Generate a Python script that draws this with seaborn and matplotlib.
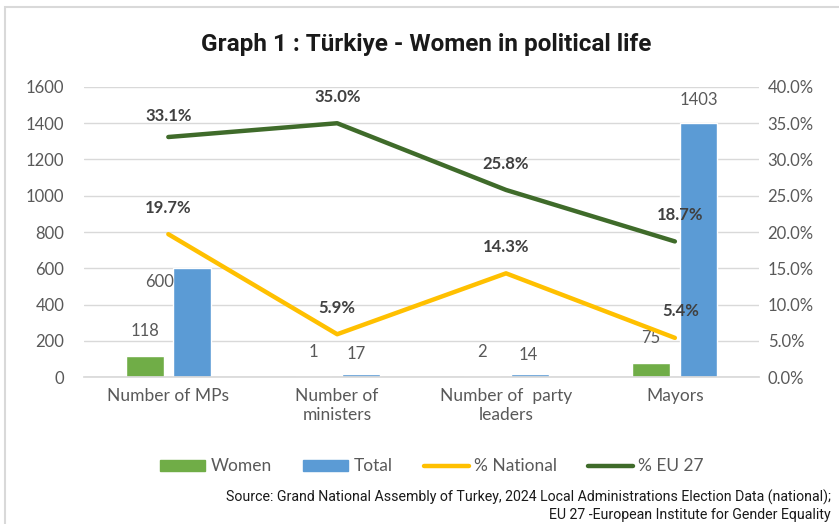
import numpy as np
import pandas as pd
import matplotlib
matplotlib.use("Agg")
import matplotlib.pyplot as plt
import seaborn as sns
from matplotlib.patches import Rectangle, Patch
from matplotlib.lines import Line2D
from matplotlib.ticker import FuncFormatter, MultipleLocator

categories = ["Number of MPs", "Number of\nministers", "Number of  party\nleaders", "Mayors"]
women = [118, 1, 2, 75]
total = [600, 17, 14, 1403]
pct_national = [19.7, 5.9, 14.3, 5.4]
pct_eu27 = [33.1, 35.0, 25.8, 18.7]

sns.set_theme(style="white")
plt.rcParams["font.family"] = ["Lato", "DejaVu Sans"]

GREEN = "#70ad47"
BLUE = "#5b9bd5"
YELLOW = "#ffc000"
DKGREEN = "#3f6b2a"
GRAY = "#595959"
LBL = "#404040"

fig = plt.figure(figsize=(8.39, 5.24), dpi=100)
ax = fig.add_axes([0.1, 0.2805, 0.805, 0.5535])

df = pd.DataFrame({
    "cat": categories * 2,
    "val": women + total,
    "series": ["Women"] * 4 + ["Total"] * 4,
})
sns.barplot(data=df, x="cat", y="val", hue="series", palette=[GREEN, BLUE],
            width=0.56, gap=0.2, ax=ax, legend=False, saturation=1)

ax.set_xlim(-0.5, 3.5)
ax.set_ylim(0, 1600)
ax.yaxis.set_major_locator(MultipleLocator(200))
ax.grid(axis="y", color="#d9d9d9", linewidth=1)
ax.set_axisbelow(True)
for s in ["top", "right", "left"]:
    ax.spines[s].set_visible(False)
ax.spines["bottom"].set_color("#d9d9d9")
ax.set_xlabel("")
ax.set_ylabel("")
ax.tick_params(axis="y", colors=GRAY, labelsize=12, length=0, pad=14)
ax.tick_params(axis="x", colors=GRAY, labelsize=12.5, length=0, pad=8)

bar_offsets_w = [(0, 18), (0, 18), (0, 18), (0, 18)]
bar_offsets_t = [(-23, -10), (-3, 14), (-1, 14), (0, 16)]
for i, (w, t) in enumerate(zip(women, total)):
    ax.annotate(str(w), (i - 0.14, w), xytext=bar_offsets_w[i], textcoords="offset points",
                ha="center", va="center", color=GRAY, fontsize=12)
    ax.annotate(str(t), (i + 0.14, t), xytext=bar_offsets_t[i], textcoords="offset points",
                ha="center", va="center", color=GRAY, fontsize=12)

ax2 = ax.twinx()
xs = np.arange(len(categories))
sns.lineplot(x=xs, y=pct_national, color=YELLOW, linewidth=3.2, ax=ax2)
sns.lineplot(x=xs, y=pct_eu27, color=DKGREEN, linewidth=3.2, ax=ax2)
ax2.set_ylim(0, 40)
ax2.yaxis.set_major_locator(MultipleLocator(5))
ax2.yaxis.set_major_formatter(FuncFormatter(lambda v, p: f"{v:.1f}%"))
for s in ["top", "right", "left", "bottom"]:
    ax2.spines[s].set_visible(False)
ax2.tick_params(axis="y", colors=GRAY, labelsize=12, length=0, pad=6)
ax2.grid(False)

for i in range(len(categories)):
    dx = 4 if i == 3 else 0
    ax2.annotate(f"{pct_national[i]:.1f}%", (xs[i], pct_national[i]), xytext=(dx, 19),
                 textcoords="offset points", ha="center", va="center",
                 color=LBL, fontsize=12, fontweight="bold")
    ax2.annotate(f"{pct_eu27[i]:.1f}%", (xs[i], pct_eu27[i]), xytext=(dx, 19 if i else 15),
                 textcoords="offset points", ha="center", va="center",
                 color=LBL, fontsize=12, fontweight="bold")

fig.text(0.508, 0.915, "Graph 1 : Türkiye - Women in political life", ha="center", va="center",
         fontsize=17.5, fontweight="bold", color="#1a1a1a",
         family=["Roboto", "DejaVu Sans"])

handles = [Patch(color=GREEN), Patch(color=BLUE),
           Line2D([], [], color=YELLOW, linewidth=3.2),
           Line2D([], [], color=DKGREEN, linewidth=3.2)]
fig.legend(handles, ["Women", "Total", "% National", "% EU 27"], loc="center",
           bbox_to_anchor=(0.515, 0.11), ncol=4, frameon=False, fontsize=12.5,
           labelcolor=GRAY, handlelength=2.6, handleheight=0.6, columnspacing=1.8,
           handletextpad=0.3)

src_font = ["Roboto", "DejaVu Sans"]
fig.text(0.99, 0.051, "Source: Grand National Assembly of Turkey, 2024 Local Administrations Election Data (national);",
         ha="right", va="center", fontsize=10.2, color="#1a1a1a", family=src_font)
fig.text(0.99, 0.018, "EU 27 -European Institute for Gender Equality",
         ha="right", va="center", fontsize=10.2, color="#1a1a1a", family=src_font)

fig.patches.append(Rectangle((0.006, -0.01), 1.2, 0.997, transform=fig.transFigure,
                             fill=False, edgecolor="#d9d9d9", linewidth=1.5))

fig.savefig("out.png", dpi=100)
